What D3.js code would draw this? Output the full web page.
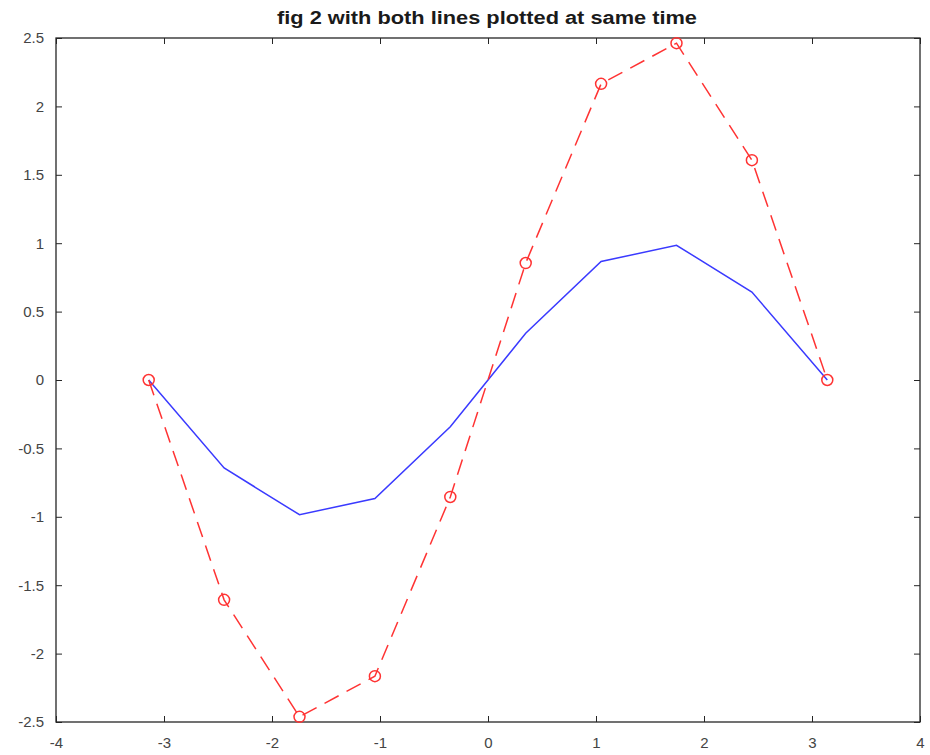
<!DOCTYPE html>
<html><head><meta charset="utf-8">
<script src="https://cdn.jsdelivr.net/npm/d3@7"></script>
<style>body{margin:0;background:#fff}</style>
</head><body>
<svg id="c" width="930" height="755"></svg>
<script>
const xValues = [-3.1416, -2.4435, -1.7453, -1.0472, -0.3491, 0.3491, 1.0472, 1.7453, 2.4435, 3.1416];
const blueValues = [0, -0.643, -0.985, -0.866, -0.342, 0.342, 0.866, 0.985, 0.643, 0];
const redValues = [0, -1.607, -2.462, -2.165, -0.855, 0.855, 2.165, 2.462, 1.607, 0];
const xTicks = [-4, -3, -2, -1, 0, 1, 2, 3, 4];
const yTicks = [-2.5, -2, -1.5, -1, -0.5, 0, 0.5, 1, 1.5, 2, 2.5];
const titleText = "fig 2 with both lines plotted at same time";

const m = {left: 56, right: 920, top: 38, bottom: 722};
const svg = d3.select("#c");
const x = d3.scaleLinear().domain([-4, 4]).range([m.left, m.right]);
const y = d3.scaleLinear().domain([-2.5, 2.5]).range([m.bottom, m.top]);
const axisColor = "#262626";
const font = "Helvetica, 'Liberation Sans', Arial, sans-serif";

const fmt = d => String(d);
function styleAxis(g, showLabels) {
  g.select(".domain").remove();
  g.selectAll(".tick line").attr("stroke", axisColor).attr("stroke-width", 1);
  g.selectAll(".tick text").attr("fill", "#444").style("font-family", font).style("font-size", "15px");
  if (!showLabels) g.selectAll(".tick text").remove();
}
svg.append("g").attr("transform", `translate(0,${m.bottom})`)
  .call(d3.axisBottom(x).tickValues(xTicks).tickSize(-6).tickPadding(15).tickFormat(fmt))
  .call(g => styleAxis(g, true));
svg.append("g").attr("transform", `translate(0,${m.top})`)
  .call(d3.axisTop(x).tickValues(xTicks).tickSize(-6).tickFormat(""))
  .call(g => styleAxis(g, false));
svg.append("g").attr("transform", `translate(${m.left},0)`)
  .call(d3.axisLeft(y).tickValues(yTicks).tickSize(-6).tickPadding(12).tickFormat(fmt))
  .call(g => styleAxis(g, true));
svg.append("g").attr("transform", `translate(${m.right},0)`)
  .call(d3.axisRight(y).tickValues(yTicks).tickSize(-6).tickFormat(""))
  .call(g => styleAxis(g, false));

svg.append("rect").attr("x", m.left).attr("y", m.top)
  .attr("width", m.right - m.left).attr("height", m.bottom - m.top)
  .attr("fill", "none").attr("stroke", axisColor).attr("stroke-width", 1.3);

const blue = xValues.map((v, i) => [v, blueValues[i]]);
const red = xValues.map((v, i) => [v, redValues[i]]);
const line = d3.line().x(d => x(d[0])).y(d => y(d[1]));

svg.append("path").datum(blue).attr("d", line)
  .attr("fill", "none").attr("stroke", "#3a3aff").attr("stroke-width", 1.5);
svg.append("path").datum(red).attr("d", line)
  .attr("fill", "none").attr("stroke", "#ff3333").attr("stroke-width", 1.5)
  .attr("stroke-dasharray", "16,9");
svg.append("g").selectAll("circle").data(red).join("circle")
  .attr("cx", d => x(d[0])).attr("cy", d => y(d[1])).attr("r", 5.5)
  .attr("fill", "none").attr("stroke", "#ff3333").attr("stroke-width", 1.5);

svg.append("text").attr("x", 487).attr("y", 24)
  .attr("text-anchor", "middle").style("font-family", font)
  .style("font-size", "18px").style("font-weight", "bold").attr("fill", "#1a1a1a")
  .attr("textLength", 420).attr("lengthAdjust", "spacingAndGlyphs")
  .text(titleText);
</script>
</body></html>
